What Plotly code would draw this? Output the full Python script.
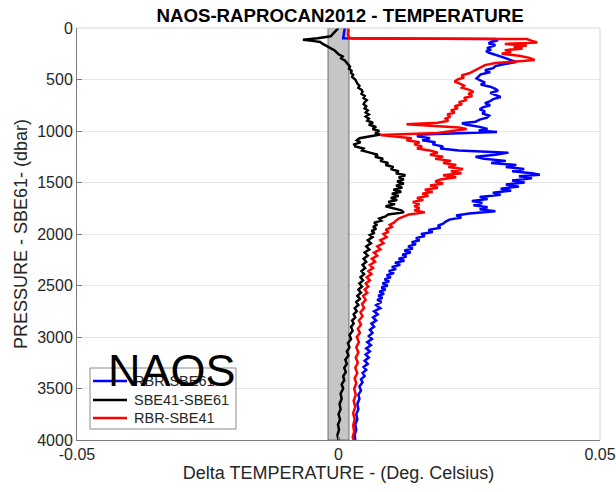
import plotly.graph_objects as go

# ---- Profiles: temperature differences (deg C) versus pressure (dbar) ----
p_rbr_sbe61 = [0, 30, 60, 90, 100, 106, 120, 135, 150, 165, 180, 195, 210, 225, 240, 255, 270, 290, 310, 330,
               350, 370, 390, 410, 430, 450, 470, 490, 510, 530, 550, 570, 590, 610, 630, 650, 670, 690, 710, 730,
               750, 770, 790, 810, 830, 850, 870, 890, 910, 925, 940, 960, 980, 995, 1010, 1022, 1035, 1050, 1070, 1090,
               1110, 1130, 1150, 1170, 1190, 1210, 1230, 1250, 1270, 1290, 1310, 1330, 1350, 1370, 1390, 1410, 1425, 1440, 1460, 1480,
               1500, 1520, 1540, 1560, 1580, 1600, 1620, 1640, 1660, 1680, 1700, 1720, 1740, 1760, 1780, 1800, 1820, 1840, 1860, 1880,
               1900, 1920, 1940, 1960, 1980, 2000, 2020, 2040, 2060, 2080, 2100, 2120, 2140, 2160, 2180, 2200, 2220, 2240, 2260, 2280,
               2300, 2320, 2340, 2360, 2380, 2400, 2420, 2440, 2460, 2480, 2500, 2520, 2540, 2560, 2580, 2600, 2620, 2640, 2660, 2690,
               2720, 2750, 2780, 2810, 2840, 2870, 2900, 2930, 2960, 2990, 3020, 3050, 3080, 3110, 3140, 3170, 3200, 3230, 3260, 3290,
               3320, 3350, 3380, 3410, 3440, 3480, 3520, 3560, 3600, 3650, 3700, 3750, 3800, 3850, 3900, 3950, 4000]
dt_rbr_sbe61 = [0.0012, 0.0011, 0.0010, 0.0008, 0.0009, 0.0300, 0.0305, 0.0292, 0.0287, 0.0300, 0.0290, 0.0284, 0.0292, 0.0282, 0.0288, 0.0298, 0.0305, 0.0318, 0.0328, 0.0340,
                0.0318, 0.0300, 0.0296, 0.0280, 0.0290, 0.0272, 0.0268, 0.0264, 0.0272, 0.0280, 0.0272, 0.0290, 0.0300, 0.0305, 0.0290, 0.0300, 0.0310, 0.0296, 0.0290, 0.0280,
                0.0290, 0.0276, 0.0270, 0.0280, 0.0275, 0.0288, 0.0284, 0.0270, 0.0262, 0.0236, 0.0245, 0.0270, 0.0285, 0.0268, 0.0303, 0.0230, 0.0160, 0.0150, 0.0175, 0.0160,
                0.0185, 0.0180, 0.0200, 0.0195, 0.0230, 0.0325, 0.0300, 0.0262, 0.0278, 0.0320, 0.0292, 0.0340, 0.0320, 0.0355, 0.0332, 0.0370, 0.0385, 0.0345, 0.0370, 0.0332,
                0.0356, 0.0320, 0.0345, 0.0310, 0.0330, 0.0295, 0.0310, 0.0270, 0.0285, 0.0255, 0.0275, 0.0258, 0.0285, 0.0270, 0.0300, 0.0250, 0.0225, 0.0235, 0.0212, 0.0205,
                0.0200, 0.0190, 0.0195, 0.0172, 0.0180, 0.0158, 0.0165, 0.0148, 0.0155, 0.0140, 0.0148, 0.0133, 0.0142, 0.0126, 0.0138, 0.0122, 0.0130, 0.0115, 0.0126, 0.0108,
                0.0118, 0.0102, 0.0110, 0.0096, 0.0106, 0.0092, 0.0100, 0.0088, 0.0097, 0.0084, 0.0094, 0.0082, 0.0090, 0.0078, 0.0087, 0.0076, 0.0084, 0.0074, 0.0082, 0.0072,
                0.0080, 0.0068, 0.0075, 0.0066, 0.0072, 0.0063, 0.0068, 0.0060, 0.0065, 0.0058, 0.0064, 0.0055, 0.0062, 0.0053, 0.0060, 0.0052, 0.0058, 0.0050, 0.0056, 0.0048,
                0.0053, 0.0046, 0.0050, 0.0043, 0.0046, 0.0040, 0.0043, 0.0038, 0.0040, 0.0036, 0.0038, 0.0034, 0.0036, 0.0032, 0.0034, 0.0031, 0.0032]

p_sbe41_sbe61 = [0, 30, 60, 80, 100, 115, 125, 135, 155, 175, 195, 215, 235, 255, 275, 295, 315, 335, 355, 375,
                 395, 415, 435, 455, 475, 500, 520, 540, 560, 580, 600, 620, 640, 660, 680, 700, 720, 740, 760, 780,
                 800, 820, 840, 860, 880, 900, 920, 940, 960, 980, 1000, 1020, 1035, 1050, 1070, 1090, 1110, 1130, 1150, 1170,
                 1190, 1210, 1230, 1250, 1270, 1290, 1310, 1330, 1350, 1370, 1390, 1410, 1430, 1450, 1470, 1490, 1510, 1530, 1550, 1570,
                 1590, 1610, 1630, 1650, 1670, 1690, 1710, 1730, 1750, 1770, 1790, 1810, 1830, 1850, 1870, 1890, 1910, 1930, 1950, 1970,
                 1990, 2010, 2030, 2060, 2090, 2120, 2150, 2180, 2210, 2240, 2270, 2300, 2330, 2360, 2390, 2420, 2450, 2480, 2510, 2540,
                 2570, 2600, 2630, 2660, 2690, 2720, 2750, 2780, 2810, 2840, 2870, 2900, 2940, 2980, 3020, 3060, 3100, 3140, 3180, 3220,
                 3260, 3300, 3340, 3380, 3420, 3460, 3500, 3550, 3600, 3650, 3700, 3750, 3800, 3850, 3900, 3950, 4000]
dt_sbe41_sbe61 = [0.0000, -0.0005, -0.0010, -0.0015, -0.0040, -0.0068, -0.0050, -0.0035, -0.0030, -0.0022, -0.0015, -0.0008, -0.0004, 0.0000, 0.0008, 0.0005, 0.0012, 0.0015, 0.0018, 0.0022,
                  0.0020, 0.0025, 0.0024, 0.0028, 0.0026, 0.0032, 0.0034, 0.0036, 0.0040, 0.0038, 0.0044, 0.0046, 0.0044, 0.0050, 0.0048, 0.0054, 0.0050, 0.0048, 0.0053, 0.0050,
                  0.0056, 0.0052, 0.0058, 0.0052, 0.0058, 0.0055, 0.0066, 0.0058, 0.0072, 0.0065, 0.0078, 0.0070, 0.0080, 0.0060, 0.0040, 0.0035, 0.0042, 0.0030, 0.0032, 0.0048,
                  0.0045, 0.0060, 0.0075, 0.0070, 0.0085, 0.0080, 0.0095, 0.0090, 0.0105, 0.0100, 0.0115, 0.0110, 0.0128, 0.0115, 0.0125, 0.0112, 0.0125, 0.0110, 0.0122, 0.0105,
                  0.0120, 0.0102, 0.0115, 0.0100, 0.0112, 0.0095, 0.0108, 0.0090, 0.0105, 0.0120, 0.0125, 0.0095, 0.0090, 0.0078, 0.0082, 0.0068, 0.0074, 0.0066, 0.0072, 0.0063,
                  0.0069, 0.0060, 0.0065, 0.0056, 0.0062, 0.0053, 0.0059, 0.0050, 0.0056, 0.0048, 0.0053, 0.0046, 0.0051, 0.0044, 0.0049, 0.0042, 0.0047, 0.0040, 0.0045, 0.0038,
                  0.0043, 0.0036, 0.0041, 0.0034, 0.0038, 0.0031, 0.0035, 0.0029, 0.0032, 0.0026, 0.0029, 0.0024, 0.0027, 0.0021, 0.0024, 0.0018, 0.0021, 0.0016, 0.0019, 0.0013,
                  0.0016, 0.0011, 0.0014, 0.0009, 0.0011, 0.0006, 0.0009, 0.0004, 0.0006, 0.0002, 0.0004, 0.0000, 0.0003, -0.0001, 0.0001, -0.0002, 0.0000]

p_rbr_sbe41 = [0, 30, 60, 95, 102, 108, 125, 140, 155, 170, 185, 200, 215, 230, 250, 270, 290, 310, 325, 340,
               360, 380, 400, 420, 440, 460, 480, 500, 520, 540, 560, 580, 600, 620, 640, 660, 680, 700, 720, 740,
               760, 780, 800, 820, 840, 860, 880, 900, 920, 935, 950, 965, 980, 1000, 1020, 1040, 1055, 1070, 1090, 1110,
               1130, 1150, 1170, 1190, 1210, 1230, 1250, 1270, 1290, 1310, 1330, 1350, 1370, 1390, 1410, 1430, 1450, 1470, 1490, 1510,
               1530, 1550, 1570, 1590, 1610, 1630, 1650, 1670, 1690, 1710, 1730, 1750, 1770, 1790, 1810, 1830, 1850, 1870, 1890, 1910,
               1930, 1960, 1980, 2000, 2030, 2060, 2090, 2120, 2150, 2180, 2210, 2240, 2270, 2300, 2330, 2360, 2390, 2420, 2450, 2480,
               2510, 2540, 2570, 2600, 2640, 2680, 2720, 2760, 2800, 2840, 2880, 2920, 2960, 3000, 3050, 3100, 3150, 3200, 3250, 3300,
               3350, 3400, 3450, 3500, 3560, 3620, 3680, 3740, 3800, 3860, 3920, 3970, 4000]
dt_rbr_sbe41 = [0.0018, 0.0019, 0.0018, 0.0020, 0.0030, 0.0360, 0.0370, 0.0380, 0.0318, 0.0360, 0.0335, 0.0352, 0.0318, 0.0330, 0.0312, 0.0345, 0.0365, 0.0375, 0.0340, 0.0300,
                0.0280, 0.0272, 0.0265, 0.0256, 0.0250, 0.0235, 0.0240, 0.0228, 0.0222, 0.0232, 0.0240, 0.0236, 0.0250, 0.0258, 0.0248, 0.0256, 0.0240, 0.0245, 0.0230, 0.0236,
                0.0222, 0.0228, 0.0215, 0.0222, 0.0208, 0.0214, 0.0205, 0.0210, 0.0190, 0.0130, 0.0175, 0.0230, 0.0245, 0.0215, 0.0190, 0.0080, 0.0110, 0.0140, 0.0130, 0.0155,
                0.0145, 0.0160, 0.0150, 0.0175, 0.0190, 0.0175, 0.0200, 0.0185, 0.0215, 0.0200, 0.0225, 0.0210, 0.0238, 0.0215, 0.0235, 0.0200, 0.0225, 0.0195, 0.0185, 0.0200,
                0.0175, 0.0190, 0.0165, 0.0180, 0.0160, 0.0172, 0.0150, 0.0162, 0.0142, 0.0155, 0.0145, 0.0155, 0.0145, 0.0165, 0.0135, 0.0125, 0.0115, 0.0110, 0.0106, 0.0098,
                0.0102, 0.0090, 0.0096, 0.0086, 0.0092, 0.0080, 0.0086, 0.0074, 0.0080, 0.0068, 0.0074, 0.0064, 0.0070, 0.0060, 0.0066, 0.0057, 0.0063, 0.0054, 0.0060, 0.0052,
                0.0057, 0.0050, 0.0055, 0.0047, 0.0052, 0.0045, 0.0049, 0.0042, 0.0046, 0.0039, 0.0043, 0.0037, 0.0041, 0.0035, 0.0039, 0.0034, 0.0038, 0.0033, 0.0037, 0.0032,
                0.0036, 0.0031, 0.0034, 0.0030, 0.0033, 0.0029, 0.0032, 0.0028, 0.0031, 0.0028, 0.0030, 0.0027, 0.0029]

series_names = ["RBR-SBE61", "SBE41-SBE61", "RBR-SBE41"]
series_colors = ["#0000ff", "#000000", "#ff0000"]

# Shaded band of instrument accuracy around zero
band_limits = [-0.002, 0.002]

x_ticks = [-0.05, 0, 0.05]
x_tick_labels = ["-0.05", "0", "0.05"]
y_ticks = [0, 500, 1000, 1500, 2000, 2500, 3000, 3500, 4000]

FONT = "Liberation Sans, Arial, Helvetica, sans-serif"

# Plot-area geometry in pixels
L, R, T, B = 77, 600, 28, 440
W, H = R - L, B - T


def px_x(v):
    return (v - L) / W


def px_y(v):
    return (B - v) / H


fig = go.Figure()

for name, color, xs, ys in zip(series_names, series_colors,
                               [dt_rbr_sbe61, dt_sbe41_sbe61, dt_rbr_sbe41],
                               [p_rbr_sbe61, p_sbe41_sbe61, p_rbr_sbe41]):
    fig.add_trace(go.Scatter(x=xs, y=ys, mode="lines", name=name, showlegend=False,
                             line=dict(color=color, width=2.5)))

fig.add_shape(type="rect", xref="x", yref="y",
              x0=band_limits[0], x1=band_limits[1], y0=0, y1=4000,
              fillcolor="#c6c6c6", line=dict(color="#6e6e6e", width=1),
              layer="between")

# Light frame on top and right sides
fig.add_shape(type="line", xref="paper", yref="paper", x0=0, x1=1, y0=1, y1=1,
              line=dict(color="#d6d6d6", width=1))
fig.add_shape(type="line", xref="paper", yref="paper", x0=1, x1=1, y0=0, y1=1,
              line=dict(color="#d6d6d6", width=1))

# Legend panel: white box, line samples and labels
fig.add_shape(type="rect", xref="paper", yref="paper",
              x0=px_x(90), x1=px_x(236), y0=px_y(429), y1=px_y(368),
              fillcolor="white", line=dict(color="#8c8c8c", width=1), layer="above")
legend_rows = [381, 400, 418]
for name, color, row in zip(series_names, series_colors, legend_rows):
    fig.add_shape(type="line", xref="paper", yref="paper",
                  x0=px_x(93), x1=px_x(127), y0=px_y(row), y1=px_y(row),
                  line=dict(color=color, width=2.5), layer="above")
    fig.add_annotation(text=name, xref="paper", yref="paper",
                       x=px_x(132), y=px_y(row), xanchor="left", yanchor="middle",
                       showarrow=False,
                       font=dict(family=FONT, size=14.5, color="#262626"))

fig.add_annotation(text="NAOS", xref="paper", yref="paper",
                   x=px_x(172), y=px_y(370),
                   xanchor="center", yanchor="middle", showarrow=False,
                   font=dict(family=FONT, size=45, color="#000000"))

fig.update_layout(
    width=616, height=492,
    margin=dict(l=L, r=616 - R, t=T, b=492 - B),
    paper_bgcolor="white", plot_bgcolor="white",
    font=dict(family=FONT, color="#262626"),
    title=dict(text="<b>NAOS-RAPROCAN2012 - TEMPERATURE</b>",
               x=340 / 616, xanchor="center", y=1 - 15 / 492, yanchor="middle",
               font=dict(family=FONT, size=18.7, color="#000000")),
    showlegend=False,
)

fig.update_xaxes(range=[-0.05, 0.05], tickvals=x_ticks, ticktext=x_tick_labels,
                 automargin=False, showgrid=False, zeroline=False,
                 showline=True, linecolor="#7a7a7a", linewidth=1,
                 ticks="inside", ticklen=5, tickcolor="#7a7a7a",
                 tickfont=dict(family=FONT, size=16, color="#262626"),
                 title=dict(text="Delta TEMPERATURE - (Deg. Celsius)",
                            font=dict(family=FONT, size=18, color="#262626"), standoff=2))
fig.update_yaxes(range=[4000, 0], tickvals=y_ticks,
                 automargin=False, showgrid=True, gridcolor="#e6e6e6", gridwidth=1, zeroline=False,
                 showline=True, linecolor="#7a7a7a", linewidth=1,
                 ticks="inside", ticklen=5, tickcolor="#7a7a7a",
                 tickfont=dict(family=FONT, size=16, color="#262626"),
                 title=dict(text="PRESSURE - SBE61- (dbar)",
                            font=dict(family=FONT, size=18, color="#262626"), standoff=4))

fig.write_html("out.html")
